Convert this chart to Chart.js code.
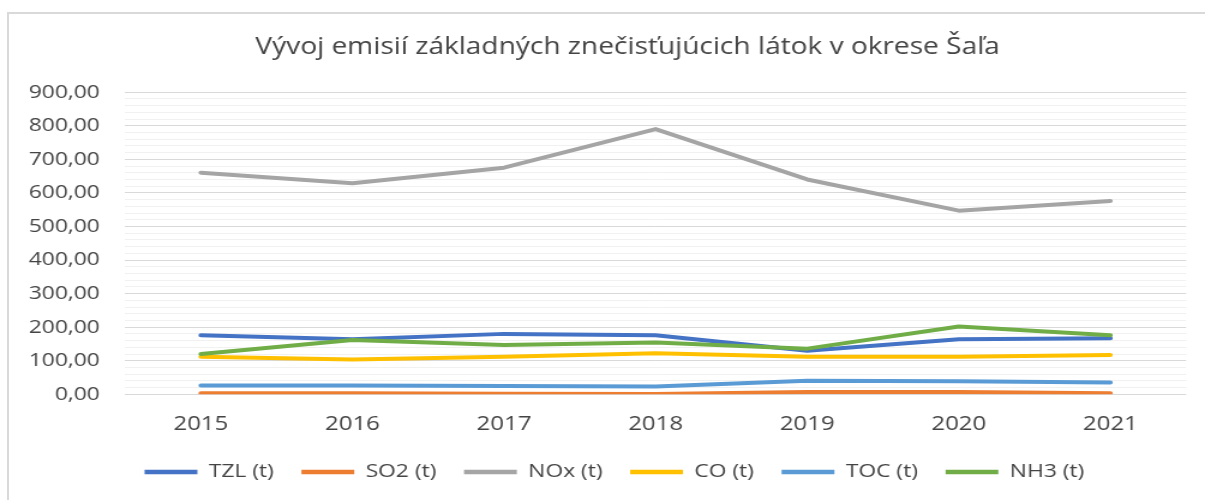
<!DOCTYPE html>
<html lang="sk">
<head>
<meta charset="utf-8">
<title>Emisie Šaľa</title>
<script src="https://cdn.jsdelivr.net/npm/chart.js@4.4.1/dist/chart.umd.min.js"></script>
<style>
  html, body { margin: 0; padding: 0; background: #fff; overflow: hidden; }
  .frame {
    position: absolute; left: 7px; top: 12px;
    width: 1300px; height: 600px;
    border: 2px solid #d9d9d9;
  }
  #chart {
    position: absolute; left: 0; top: 0;
    width: 1205px !important; height: 500px !important;
  }
</style>
</head>
<body>
<div class="frame"></div>
<canvas id="chart" width="1004" height="500"></canvas>
<script>
// ---------- DATA ----------
const years = ["2015", "2016", "2017", "2018", "2019", "2020", "2021"];

const tzl = [176, 164, 180, 176, 130, 164, 167];
const so2 = [3, 3, 2, 1, 7, 7, 3];
const nox = [660, 629, 675, 790, 640, 547, 576];
const co = [112, 104, 112, 122, 112, 112, 117];
const toc = [26, 26, 25, 23, 40, 39, 35];
const nh3 = [120, 162, 147, 154, 136, 202, 176];

const seriesNames = ["TZL (t)", "SO2 (t)", "NOx (t)", "CO (t)", "TOC (t)", "NH3 (t)"];
const seriesColors = ["#4472C4", "#ED7D31", "#A5A5A5", "#FFC000", "#5B9BD5", "#70AD47"];
const seriesValues = [tzl, so2, nox, co, toc, nh3];

const yMax = 900;
const yMajor = 100;
const yMinor = 20;

// ---------- STYLE ----------
const FONT = "'Open Sans', sans-serif";
const TEXT = "#444444";

// canvas is drawn narrower and widened by CSS, so x positions are in canvas units
const plotLeft = 104.2;
const padLeft = 6;
const titleShift = 25.8;
const legendShift = 14.8;

const datasets = seriesNames.map((name, i) => ({
  label: name,
  data: seriesValues[i],
  borderColor: seriesColors[i],
  backgroundColor: seriesColors[i],
  borderWidth: 4,
  borderCapStyle: "round",
  borderJoinStyle: "round",
  pointRadius: 0,
  pointHoverRadius: 0,
  tension: 0,
  order: seriesNames.length - i, // later series on top
}));

const fmt = (v) => v.toFixed(2).replace(".", ",");

// move title and legend sideways after layout
const blockNudge = {
  id: "blockNudge",
  afterLayout(chart) {
    if (chart.titleBlock) {
      chart.titleBlock.left += titleShift;
      chart.titleBlock.right += titleShift;
    }
    if (chart.legend) {
      chart.legend.left += legendShift;
      chart.legend.right += legendShift;
    }
  },
};

new Chart(document.getElementById("chart"), {
  type: "line",
  data: { labels: years, datasets },
  plugins: [blockNudge],
  options: {
    responsive: false,
    animation: false,
    devicePixelRatio: 1,
    layout: { padding: { left: padLeft, right: 15.7, top: 0, bottom: 8.5 } },
    plugins: {
      title: {
        display: true,
        text: "Vývoj emisií základných znečisťujúcich látok v okrese Šaľa",
        color: TEXT,
        font: { family: FONT, size: 23.4, weight: "normal" },
        padding: { top: 32.9, bottom: 31.2 },
      },
      legend: {
        position: "bottom",
        labels: {
          color: TEXT,
          font: { family: FONT, size: 19 },
          boxWidth: 44,
          boxHeight: 4.5,
          padding: 23,
          sort: (a, b) => a.datasetIndex - b.datasetIndex,
          generateLabels: (chart) =>
            Chart.defaults.plugins.legend.labels.generateLabels(chart).map((item) => ({
              ...item,
              fillStyle: item.strokeStyle,
              lineWidth: 0,
            })),
        },
      },
      tooltip: { enabled: false },
    },
    scales: {
      x: {
        offset: true,
        grid: { display: false, drawTicks: false },
        border: { display: false },
        ticks: {
          color: TEXT,
          font: { family: FONT, size: 20 },
          padding: 18,
          maxRotation: 0,
        },
        afterFit: (scale) => {
          scale.height = 45.2;
        },
      },
      y: {
        min: 0,
        max: yMax,
        border: { display: false },
        grid: {
          drawTicks: false,
          lineWidth: 1,
          color: (ctx) => (ctx.tick && ctx.tick.value % yMajor === 0 ? "#d9d9d9" : "#f1f1f1"),
        },
        ticks: {
          stepSize: yMinor,
          autoSkip: false,
          color: TEXT,
          font: { family: FONT, size: 19 },
          padding: 21,
          callback: (v) => (v % yMajor === 0 ? fmt(v) : ""),
        },
        afterFit: (scale) => {
          scale.width = plotLeft - padLeft;
        },
      },
    },
  },
});
</script>
</body>
</html>
